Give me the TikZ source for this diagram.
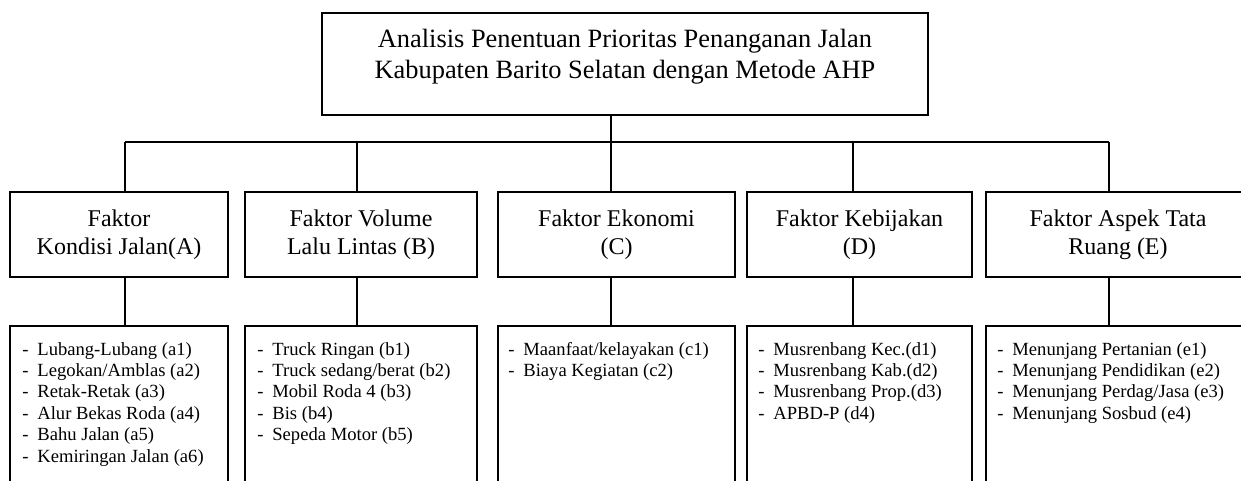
\documentclass[tikz,border=0pt]{standalone}
\usepackage{fontspec}
\setmainfont{Liberation Serif}
\usetikzlibrary{calc}
\newcommand\listline[1]{\makebox[7.5pt][l]{-}#1\par}
\begin{document}
\begin{tikzpicture}[x=0.5pt,y=-0.5pt,
  box/.style={draw, line width=1pt, inner sep=0pt, outer sep=0pt, anchor=north west},
  conn/.style={line width=0.7pt},
  factor/.style={box, align=center, font=\fontsize{12}{14}\selectfont, minimum height=42.5pt},
  listbox/.style={box, minimum height=90pt},
  listtext/.style={inner sep=0pt, anchor=base west, font=\fontsize{9.3}{10.7}\selectfont}
]
\path[fill=white] (0,0) rectangle (1241,481);
\useasboundingbox (0,0) rectangle (1241,481);
\clip (0,0) rectangle (1241,481);

% goal
\node[box, minimum width=303pt, minimum height=51pt] (goal) at (322,13) {};
\node[align=center, inner sep=0pt, font=\fontsize{13.2}{15.5}\selectfont] (goaltext)
  at ($(goal.center)+(0,-7.5)$)
  {Analisis Penentuan Prioritas Penanganan Jalan\\Kabupaten Barito Selatan dengan Metode AHP};

% factors
\node[factor, minimum width=109pt]   (fA) at (10,192)  {Faktor\\Kondisi Jalan(A)};
\node[factor, minimum width=116pt]   (fB) at (245,192) {Faktor Volume\\Lalu Lintas (B)};
\node[factor, minimum width=118.5pt] (fC) at (498,192) {Faktor Ekonomi\\(C)};
\node[factor, minimum width=112.5pt] (fD) at (747,192) {Faktor Kebijakan\\(D)};
\node[factor, minimum width=132pt]   (fE) at (986,192) {Faktor Aspek Tata\\Ruang (E)};

% lists
\node[listbox, minimum width=109pt]   (lA) at (10,326)  {};
\node[listbox, minimum width=116pt]   (lB) at (245,326) {};
\node[listbox, minimum width=118.5pt] (lC) at (498,326) {};
\node[listbox, minimum width=112.5pt] (lD) at (747,326) {};
\node[listbox, minimum width=132pt]   (lE) at (986,326) {};

\node[listtext] (tA) at (22,355) {\parbox[t]{120pt}{%
  \listline{Lubang-Lubang (a1)}\listline{Legokan/Amblas (a2)}\listline{Retak-Retak (a3)}%
  \listline{Alur Bekas Roda (a4)}\listline{Bahu Jalan (a5)}\listline{Kemiringan Jalan (a6)}}};
\node[listtext] (tB) at (257,355) {\parbox[t]{120pt}{%
  \listline{Truck Ringan (b1)}\listline{Truck sedang/berat (b2)}\listline{Mobil Roda 4 (b3)}%
  \listline{Bis (b4)}\listline{Sepeda Motor (b5)}}};
\node[listtext] (tC) at (508,355) {\parbox[t]{120pt}{%
  \listline{Maanfaat/kelayakan (c1)}\listline{Biaya Kegiatan (c2)}}};
\node[listtext] (tD) at (758,355) {\parbox[t]{120pt}{%
  \listline{Musrenbang Kec.(d1)}\listline{Musrenbang Kab.(d2)}\listline{Musrenbang Prop.(d3)}%
  \listline{APBD-P (d4)}}};
\node[listtext] (tE) at (997,355) {\parbox[t]{130pt}{%
  \listline{Menunjang Pertanian (e1)}\listline{Menunjang Pendidikan (e2)}%
  \listline{Menunjang Perdag/Jasa (e3)}\listline{Menunjang Sosbud (e4)}}};

% connectors
\coordinate (jA) at (125,142);
\coordinate (jB) at (357,142);
\coordinate (jC) at (611,142);
\coordinate (jD) at (853,142);
\coordinate (jE) at (1109,142);
\draw[conn] (goal.south -| jC) -- (jC);
\draw[conn] (jA) -- (jE);
\foreach \k in {A,B,C,D,E}{
  \draw[conn] (j\k) -- (j\k |- f\k.north);
  \draw[conn] (f\k.south -| j\k) -- (l\k.north -| j\k);
}
\end{tikzpicture}
\end{document}
